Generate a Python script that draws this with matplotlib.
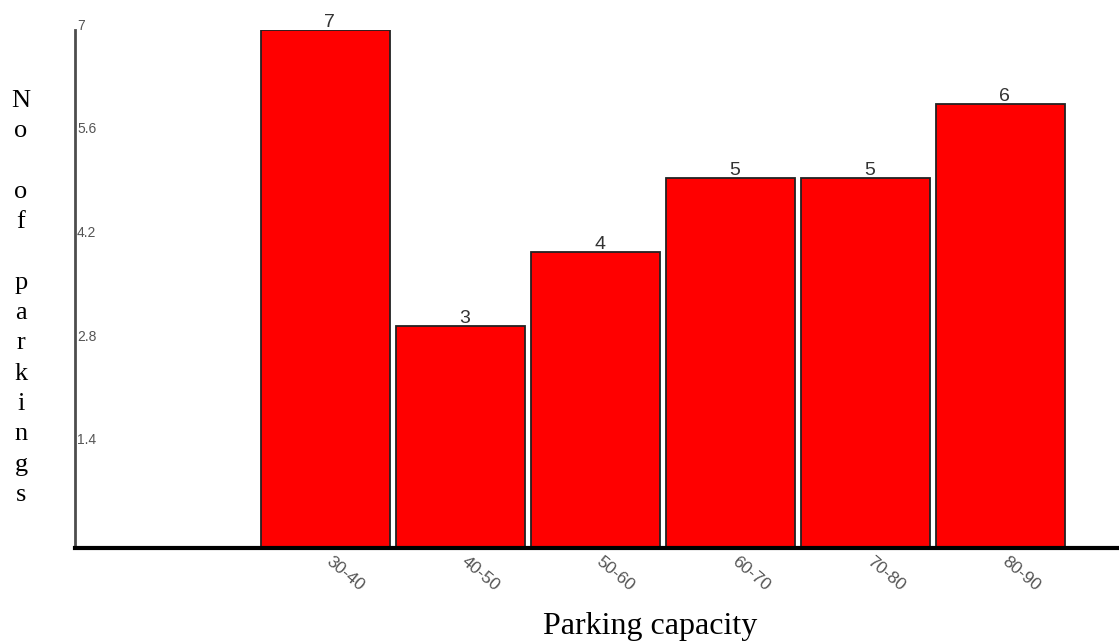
import numpy as np
import matplotlib.pyplot as plt
import matplotlib.transforms as mtransforms

# data
ranges = ['30-40', '40-50', '50-60', '60-70', '70-80', '80-90']
counts = [7, 3, 4, 5, 5, 6]
yticks = [1.4, 2.8, 4.2, 5.6, 7]
ytick_labels = ['1.4', '2.8', '4.2', '5.6', '7']
ylabel = 'No of parkings'
xlabel = 'Parking capacity'

W, H = 1119, 644
fig = plt.figure(figsize=(W / 100, H / 100), dpi=100)
ax = fig.add_axes([75 / W, (H - 548) / H, 1 - 75 / W, (548 - 29.5) / H])

x = np.arange(len(ranges))
bars = ax.bar(x, counts, width=129 / 135, color='#ff0000', edgecolor='#222222', linewidth=1.3)
for b, v in zip(bars, counts):
    ax.annotate(str(v), (b.get_x() + b.get_width() / 2, v), xytext=(3, 2),
                textcoords='offset points', ha='center', va='baseline',
                fontsize=14, color='#333333', family='Liberation Sans')

ax.set_xlim((75 - 325.5) / 135, (W - 325.5) / 135)
ax.set_ylim(0, 7)

for s in ['top', 'right']:
    ax.spines[s].set_visible(False)
ax.spines['left'].set_color('#4d4d4d')
ax.spines['left'].set_linewidth(2)
ax.spines['bottom'].set_color('black')
ax.spines['bottom'].set_linewidth(3)

ax.set_yticks(yticks, ytick_labels)
ax.tick_params(axis='y', length=0, pad=-1.5, labelsize=10, labelcolor='#555555')
for t in ax.get_yticklabels():
    t.set_ha('left')
    t.set_va('baseline')
    t.set_family('Liberation Sans')

ax.set_xticks(x, ranges, rotation=-40, ha='left', va='top', rotation_mode='anchor')
ax.tick_params(axis='x', length=0, pad=4, labelsize=12.5, labelcolor='#555555')
shift = mtransforms.ScaledTranslation(8 / 100, 0, fig.dpi_scale_trans)
for t in ax.get_xticklabels():
    t.set_family('Liberation Sans')
    t.set_transform(t.get_transform() + shift)

# vertical stacked y label
for i, ch in enumerate(ylabel):
    fig.text(21 / W, 1 - (107 + i * 30.3) / H, ch, ha='center', va='baseline',
             fontsize=19, family='Liberation Serif', color='black')

fig.text(650 / W, 1 - 634 / H, xlabel, ha='center', va='baseline',
         fontsize=23, family='Liberation Serif', color='black')

fig.savefig('out.png', dpi=100)
